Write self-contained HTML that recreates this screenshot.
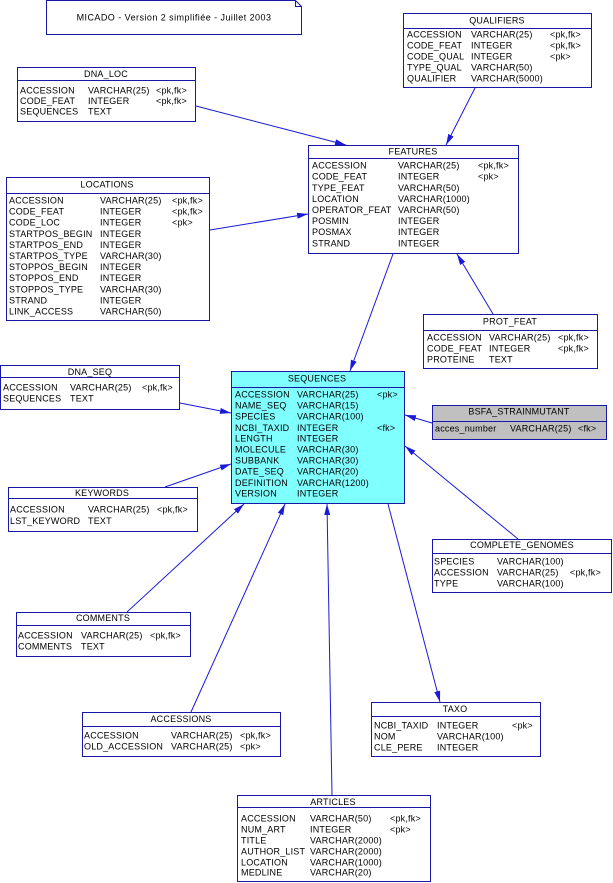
<!DOCTYPE html>
<html><head><meta charset="utf-8">
<style>
html,body{margin:0;padding:0;background:#fff;}
svg{display:block;}
text{font-family:"Liberation Sans",Arial,sans-serif;font-size:9px;fill:#000;letter-spacing:0.2px;}
.t{text-anchor:middle;}
.n{letter-spacing:0.45px;}
.b{fill:#fff;stroke:#1818a8;stroke-width:1;}
.h{stroke:#1818a8;stroke-width:1;}
.c{stroke:#1a1ad8;stroke-width:1;fill:none;marker-end:url(#ah);}
</style></head>
<body>
<svg width="613" height="883" viewBox="0 0 613 883" xmlns="http://www.w3.org/2000/svg">
<defs>
<marker id="ah" markerUnits="userSpaceOnUse" markerWidth="12" markerHeight="7" refX="11" refY="3" orient="auto">
<path d="M0,0 L11,3 L0,6 Z" fill="#1a1ad8"/>
</marker>
</defs>

<!-- connectors -->
<line class="c" x1="196" y1="106" x2="346" y2="145"/>
<line class="c" x1="475" y1="88" x2="446" y2="145"/>
<line class="c" x1="210" y1="230" x2="308" y2="214"/>
<line class="c" x1="393" y1="254" x2="350" y2="371"/>
<line class="c" x1="493" y1="314" x2="457" y2="254"/>
<line class="c" x1="180" y1="403" x2="231" y2="413"/>
<line class="c" x1="165" y1="487" x2="231" y2="464"/>
<line class="c" x1="432" y1="423" x2="405" y2="415"/>
<line class="c" x1="518" y1="539" x2="405" y2="446"/>
<line class="c" x1="388" y1="504" x2="440" y2="702"/>
<line class="c" x1="127" y1="612" x2="244" y2="504"/>
<line class="c" x1="191" y1="712" x2="285" y2="504"/>
<line class="c" x1="332" y1="795" x2="327" y2="504"/>

<!-- note -->
<path d="M46.5,0.5 H295.5 L301.5,6.5 V34.5 H46.5 Z" class="b"/>
<path d="M295.5,0.5 V6.5 H301.5" fill="none" class="h"/>
<text class="t n" x="174" y="20.5">MICADO - Version 2 simplifiée - Juillet 2003</text>

<!-- DNA_LOC -->
<rect class="b" x="17.5" y="67.5" width="178" height="54"/>
<line class="h" x1="17.5" y1="80.5" x2="195.5" y2="80.5"/>
<text class="t" x="106" y="77">DNA_LOC</text>
<text x="20" y="93.5">ACCESSION</text><text x="88" y="93.5">VARCHAR(25)</text><text x="156" y="93.5">&lt;pk,fk&gt;</text>
<text x="20" y="104">CODE_FEAT</text><text x="88" y="104">INTEGER</text><text x="156" y="104">&lt;pk,fk&gt;</text>
<text x="20" y="114.5">SEQUENCES</text><text x="88" y="114.5">TEXT</text>

<!-- QUALIFIERS -->
<rect class="b" x="403.5" y="13.5" width="188" height="74"/>
<line class="h" x1="403.5" y1="28.5" x2="591.5" y2="28.5"/>
<text class="t" x="497" y="23.5">QUALIFIERS</text>
<text x="407" y="37.5">ACCESSION</text><text x="471" y="37.5">VARCHAR(25)</text><text x="550" y="37.5">&lt;pk,fk&gt;</text>
<text x="407" y="48.5">CODE_FEAT</text><text x="471" y="48.5">INTEGER</text><text x="550" y="48.5">&lt;pk,fk&gt;</text>
<text x="407" y="59.5">CODE_QUAL</text><text x="471" y="59.5">INTEGER</text><text x="550" y="59.5">&lt;pk&gt;</text>
<text x="407" y="70.5">TYPE_QUAL</text><text x="471" y="70.5">VARCHAR(50)</text>
<text x="407" y="81.5">QUALIFIER</text><text x="471" y="81.5">VARCHAR(5000)</text>

<!-- FEATURES -->
<rect class="b" x="308.5" y="145.5" width="210" height="108"/>
<line class="h" x1="308.5" y1="158.5" x2="518.5" y2="158.5"/>
<text class="t" x="413" y="154.5">FEATURES</text>
<text x="312" y="168.5">ACCESSION</text><text x="398" y="168.5">VARCHAR(25)</text><text x="478" y="168.5">&lt;pk,fk&gt;</text>
<text x="312" y="179.5">CODE_FEAT</text><text x="398" y="179.5">INTEGER</text><text x="478" y="179.5">&lt;pk&gt;</text>
<text x="312" y="191">TYPE_FEAT</text><text x="398" y="191">VARCHAR(50)</text>
<text x="312" y="202">LOCATION</text><text x="398" y="202">VARCHAR(1000)</text>
<text x="312" y="213">OPERATOR_FEAT</text><text x="398" y="213">VARCHAR(50)</text>
<text x="312" y="224">POSMIN</text><text x="398" y="224">INTEGER</text>
<text x="312" y="235">POSMAX</text><text x="398" y="235">INTEGER</text>
<text x="312" y="246.5">STRAND</text><text x="398" y="246.5">INTEGER</text>

<!-- LOCATIONS -->
<rect class="b" x="6.5" y="177.5" width="203" height="143"/>
<line class="h" x1="6.5" y1="193.5" x2="209.5" y2="193.5"/>
<text class="t" x="107" y="187.5">LOCATIONS</text>
<text x="9" y="203.5">ACCESSION</text><text x="100" y="203.5">VARCHAR(25)</text><text x="172" y="203.5">&lt;pk,fk&gt;</text>
<text x="9" y="214.6">CODE_FEAT</text><text x="100" y="214.6">INTEGER</text><text x="172" y="214.6">&lt;pk,fk&gt;</text>
<text x="9" y="225.7">CODE_LOC</text><text x="100" y="225.7">INTEGER</text><text x="172" y="225.7">&lt;pk&gt;</text>
<text x="9" y="236.8">STARTPOS_BEGIN</text><text x="100" y="236.8">INTEGER</text>
<text x="9" y="247.9">STARTPOS_END</text><text x="100" y="247.9">INTEGER</text>
<text x="9" y="259">STARTPOS_TYPE</text><text x="100" y="259">VARCHAR(30)</text>
<text x="9" y="270.1">STOPPOS_BEGIN</text><text x="100" y="270.1">INTEGER</text>
<text x="9" y="281.2">STOPPOS_END</text><text x="100" y="281.2">INTEGER</text>
<text x="9" y="292.3">STOPPOS_TYPE</text><text x="100" y="292.3">VARCHAR(30)</text>
<text x="9" y="303.4">STRAND</text><text x="100" y="303.4">INTEGER</text>
<text x="9" y="314.5">LINK_ACCESS</text><text x="100" y="314.5">VARCHAR(50)</text>

<!-- PROT_FEAT -->
<rect class="b" x="423.5" y="314.5" width="174" height="54"/>
<line class="h" x1="423.5" y1="330.5" x2="597.5" y2="330.5"/>
<text class="t" x="510" y="324.5">PROT_FEAT</text>
<text x="427" y="340.5">ACCESSION</text><text x="489" y="340.5">VARCHAR(25)</text><text x="558" y="340.5">&lt;pk,fk&gt;</text>
<text x="427" y="351.5">CODE_FEAT</text><text x="489" y="351.5">INTEGER</text><text x="558" y="351.5">&lt;pk,fk&gt;</text>
<text x="427" y="362.5">PROTEINE</text><text x="489" y="362.5">TEXT</text>

<!-- DNA_SEQ -->
<rect class="b" x="0.5" y="365.5" width="179" height="44"/>
<line class="h" x1="0.5" y1="377.5" x2="179.5" y2="377.5"/>
<text class="t" x="90" y="375">DNA_SEQ</text>
<text x="3" y="390.5">ACCESSION</text><text x="70" y="390.5">VARCHAR(25)</text><text x="142" y="390.5">&lt;pk,fk&gt;</text>
<text x="3" y="401.5">SEQUENCES</text><text x="70" y="401.5">TEXT</text>

<!-- SEQUENCES -->
<rect x="231.5" y="371.5" width="173" height="132" fill="#80ffff" stroke="#1818a8"/>
<line class="h" x1="231.5" y1="387.5" x2="404.5" y2="387.5"/>
<text class="t" x="317" y="381.5">SEQUENCES</text>
<text x="235" y="397.5">ACCESSION</text><text x="297" y="397.5">VARCHAR(25)</text><text x="377" y="397.5">&lt;pk&gt;</text>
<text x="235" y="408.5">NAME_SEQ</text><text x="297" y="408.5">VARCHAR(15)</text>
<text x="235" y="419.5">SPECIES</text><text x="297" y="419.5">VARCHAR(100)</text>
<text x="235" y="431">NCBI_TAXID</text><text x="297" y="431">INTEGER</text><text x="377" y="431">&lt;fk&gt;</text>
<text x="235" y="441.5">LENGTH</text><text x="297" y="441.5">INTEGER</text>
<text x="235" y="452.5">MOLECULE</text><text x="297" y="452.5">VARCHAR(30)</text>
<text x="235" y="463.5">SUBBANK</text><text x="297" y="463.5">VARCHAR(30)</text>
<text x="235" y="474.5">DATE_SEQ</text><text x="297" y="474.5">VARCHAR(20)</text>
<text x="235" y="486">DEFINITION</text><text x="297" y="486">VARCHAR(1200)</text>
<text x="235" y="496.5">VERSION</text><text x="297" y="496.5">INTEGER</text>

<!-- BSFA_STRAINMUTANT -->
<rect x="432.5" y="405.5" width="174" height="34" fill="#c0c0c0" stroke="#1818a8"/>
<line class="h" x1="432.5" y1="421.5" x2="606.5" y2="421.5"/>
<text class="t" x="519" y="414.5">BSFA_STRAINMUTANT</text>
<text x="435" y="431.5">acces_number</text><text x="510" y="431.5">VARCHAR(25)</text><text x="578" y="431.5">&lt;fk&gt;</text>

<!-- KEYWORDS -->
<rect class="b" x="8.5" y="487.5" width="189" height="44"/>
<line class="h" x1="8.5" y1="498.5" x2="197.5" y2="498.5"/>
<text class="t" x="102" y="496">KEYWORDS</text>
<text x="10" y="512.5">ACCESSION</text><text x="88" y="512.5">VARCHAR(25)</text><text x="157" y="512.5">&lt;pk,fk&gt;</text>
<text x="10" y="524">LST_KEYWORD</text><text x="88" y="524">TEXT</text>

<!-- COMPLETE_GENOMES -->
<rect class="b" x="432.5" y="539.5" width="179" height="53"/>
<line class="h" x1="432.5" y1="553.5" x2="611.5" y2="553.5"/>
<text class="t" x="522" y="548">COMPLETE_GENOMES</text>
<text x="434" y="564.5">SPECIES</text><text x="497" y="564.5">VARCHAR(100)</text>
<text x="434" y="575.5">ACCESSION</text><text x="497" y="575.5">VARCHAR(25)</text><text x="570" y="575.5">&lt;pk,fk&gt;</text>
<text x="434" y="586.5">TYPE</text><text x="497" y="586.5">VARCHAR(100)</text>

<!-- COMMENTS -->
<rect class="b" x="16.5" y="612.5" width="174" height="44"/>
<line class="h" x1="16.5" y1="625.5" x2="190.5" y2="625.5"/>
<text class="t" x="103" y="621">COMMENTS</text>
<text x="18" y="638.5">ACCESSION</text><text x="81" y="638.5">VARCHAR(25)</text><text x="150" y="638.5">&lt;pk,fk&gt;</text>
<text x="18" y="649.5">COMMENTS</text><text x="81" y="649.5">TEXT</text>

<!-- ACCESSIONS -->
<rect class="b" x="82.5" y="712.5" width="198" height="44"/>
<line class="h" x1="82.5" y1="726.5" x2="280.5" y2="726.5"/>
<text class="t" x="181" y="722">ACCESSIONS</text>
<text x="84" y="738.5">ACCESSION</text><text x="171" y="738.5">VARCHAR(25)</text><text x="240" y="738.5">&lt;pk,fk&gt;</text>
<text x="84" y="749.5">OLD_ACCESSION</text><text x="171" y="749.5">VARCHAR(25)</text><text x="240" y="749.5">&lt;pk&gt;</text>

<!-- TAXO -->
<rect class="b" x="371.5" y="702.5" width="169" height="54"/>
<line class="h" x1="371.5" y1="716.5" x2="540.5" y2="716.5"/>
<text class="t" x="455" y="712">TAXO</text>
<text x="374" y="728.5">NCBI_TAXID</text><text x="437" y="728.5">INTEGER</text><text x="512" y="728.5">&lt;pk&gt;</text>
<text x="374" y="739.5">NOM</text><text x="437" y="739.5">VARCHAR(100)</text>
<text x="374" y="750.5">CLE_PERE</text><text x="437" y="750.5">INTEGER</text>

<!-- ARTICLES -->
<rect class="b" x="237.5" y="795.5" width="193" height="86"/>
<line class="h" x1="237.5" y1="807.5" x2="430.5" y2="807.5"/>
<text class="t" x="333" y="805">ARTICLES</text>
<text x="241" y="821.5">ACCESSION</text><text x="310" y="821.5">VARCHAR(50)</text><text x="390" y="821.5">&lt;pk,fk&gt;</text>
<text x="241" y="832.5">NUM_ART</text><text x="310" y="832.5">INTEGER</text><text x="390" y="832.5">&lt;pk&gt;</text>
<text x="241" y="843.5">TITLE</text><text x="310" y="843.5">VARCHAR(2000)</text>
<text x="241" y="854.5">AUTHOR_LIST</text><text x="310" y="854.5">VARCHAR(2000)</text>
<text x="241" y="865.5">LOCATION</text><text x="310" y="865.5">VARCHAR(1000)</text>
<text x="241" y="875.5">MEDLINE</text><text x="310" y="875.5">VARCHAR(20)</text>
</svg>
</body></html>
